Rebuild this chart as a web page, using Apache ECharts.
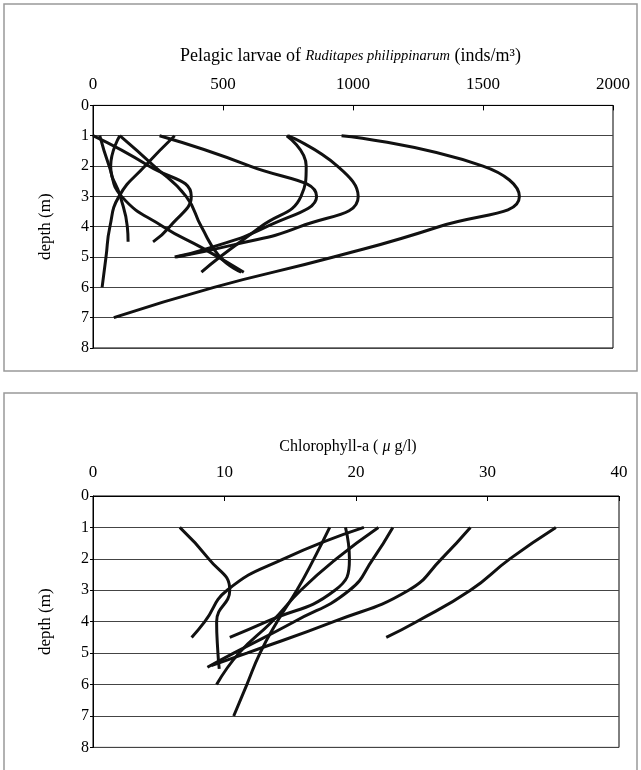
<!DOCTYPE html>
<html>
<head>
<meta charset="utf-8">
<script src="https://cdn.jsdelivr.net/npm/echarts@6/dist/echarts.min.js"></script>
<style>
  html, body { margin: 0; padding: 0; background: #fff; }
  #chart { width: 641px; height: 770px; }
</style>
</head>
<body>
<div id="chart"></div>
<script>
// ---- Data: [value, depth (m)] ----
// Pelagic larvae of Ruditapes philippinarum (inds/m3)
const larvae1 = [[956,1],[1500,2],[1640,3],[1330,4],[925,5],[465,6],[80,7]];
const larvae2 = [[750,1],[940,2],[1020,3],[796,4],[540,4.6],[320,5]];
const larvae3 = [[745,1],[820,2],[800,3],[645,4],[488,5],[417,5.5]];
const larvae4 = [[256,1],[604,2],[860,3],[668,4],[442,4.72],[314,5]];
const larvae5 = [[0,1],[215,2],[378,3],[295,4],[231,4.5]];
const larvae6 = [[103,1],[235,2],[358,3],[417,4],[488,5],[570,5.5]];
const larvae7 = [[26,1],[62,2],[110,3],[270,4],[420,4.7],[580,5.5]];
const larvae8 = [[103,1],[68,2],[105,3],[132,4],[135,4.5]];
const larvae9 = [[314,1],[200,2],[100,3],[65,4],[50,5],[35,6]];

// Chlorophyll-a (ug/l)
const chl1 = [[6.6,1],[8.8,2],[10.4,3],[9.4,4],[9.5,5],[9.6,5.5]];
const chl2 = [[20.6,1],[14.5,2],[10.2,3],[8.5,4],[7.5,4.5]];
const chl3 = [[18.0,1],[16.8,2],[15.5,3],[14.0,4],[12.7,5],[11.7,6],[10.7,7]];
const chl4 = [[19.2,1],[19.5,2],[18.4,3],[13.2,4],[10.4,4.5]];
const chl5 = [[21.7,1],[18.5,2],[15.8,3],[13.6,4],[11.1,5],[9.4,6]];
const chl6 = [[22.8,1],[21.3,2],[19.5,3],[15.3,4],[10.7,5],[8.7,5.45]];
const chl7 = [[28.7,1],[26.5,2],[24.0,3],[18.3,4],[11.7,5],[9.0,5.4]];
const chl8 = [[35.2,1],[31.7,2],[28.7,3],[24.6,4],[22.3,4.5]];

const larvaeList = [larvae1, larvae2, larvae3, larvae4, larvae5, larvae6, larvae7, larvae8, larvae9];
const chlList = [chl1, chl2, chl3, chl4, chl5, chl6, chl7, chl8];

const FONT = '"Liberation Serif", "Times New Roman", serif';
const plain = v => String(v);

function mkSeries(data, idx) {
  return {
    type: 'line', xAxisIndex: idx, yAxisIndex: idx, data: data,
    smooth: 0.5, symbol: 'none', showSymbol: false,
    lineStyle: { color: '#111', width: 3 }, silent: true
  };
}

function yAxisCfg(gridIndex) {
  return {
    gridIndex: gridIndex, type: 'value', inverse: true, min: 0, max: 8, interval: 1,
    name: 'depth (m)', nameLocation: 'middle', nameGap: 39, nameRotate: 90,
    nameTextStyle: { fontFamily: FONT, fontSize: 17, color: '#000' },
    axisLine: { show: true, lineStyle: { color: '#000', width: 1 } },
    axisTick: { show: true, inside: false, length: 3, lineStyle: { color: '#000' } },
    axisLabel: { fontFamily: FONT, fontSize: 16, color: '#000', margin: 4, formatter: plain },
    splitLine: { show: true, lineStyle: { color: '#444', width: 1 } }
  };
}

const chart = echarts.init(document.getElementById('chart'), null, { renderer: 'canvas' });
chart.setOption({
  animation: false,
  backgroundColor: '#fff',
  graphic: [
    { type: 'rect', silent: true, shape: { x: 4, y: 4, width: 633, height: 367 },
      style: { fill: 'none', stroke: '#999', lineWidth: 1.5 } },
    { type: 'rect', silent: true, shape: { x: 4, y: 393, width: 633, height: 400 },
      style: { fill: 'none', stroke: '#999', lineWidth: 1.5 } }
  ],
  grid: [
    { left: 93, top: 105.4, width: 520, height: 242.6, show: true, borderColor: '#000', borderWidth: 1 },
    { left: 93, top: 496, width: 526, height: 251.4, show: true, borderColor: '#000', borderWidth: 1 }
  ],
  xAxis: [
    {
      gridIndex: 0, type: 'value', position: 'top', min: 0, max: 2000, interval: 500,
      name: '{n|Pelagic larvae of }{i|Ruditapes philippinarum}{n| (inds/m³)}',
      nameLocation: 'middle', nameGap: 40,
      nameTextStyle: {
        padding: [0, 5, 0, 0],
        rich: {
          n: { fontFamily: FONT, fontSize: 18, color: '#000' },
          i: { fontFamily: FONT, fontSize: 14.5, fontStyle: 'italic', color: '#000' }
        }
      },
      axisLine: { show: true, lineStyle: { color: '#000' } },
      axisTick: { show: true, inside: true, length: 5, lineStyle: { color: '#000' } },
      axisLabel: { fontFamily: FONT, fontSize: 17, color: '#000', margin: 12, formatter: plain },
      splitLine: { show: false }
    },
    {
      gridIndex: 1, type: 'value', position: 'top', min: 0, max: 40, interval: 10,
      name: '{n|Chlorophyll-a ( }{i|μ}{n| g/l)}',
      nameLocation: 'middle', nameGap: 41,
      nameTextStyle: {
        padding: [0, 16, 0, 0],
        rich: {
          n: { fontFamily: FONT, fontSize: 16, color: '#000' },
          i: { fontFamily: FONT, fontSize: 16, fontStyle: 'italic', color: '#000' }
        }
      },
      axisLine: { show: true, lineStyle: { color: '#000' } },
      axisTick: { show: true, inside: true, length: 5, lineStyle: { color: '#000' } },
      axisLabel: { fontFamily: FONT, fontSize: 17, color: '#000', margin: 15, formatter: plain },
      splitLine: { show: false }
    }
  ],
  yAxis: [yAxisCfg(0), yAxisCfg(1)],
  series: larvaeList.map(d => mkSeries(d, 0)).concat(chlList.map(d => mkSeries(d, 1)))
});
</script>
</body>
</html>
